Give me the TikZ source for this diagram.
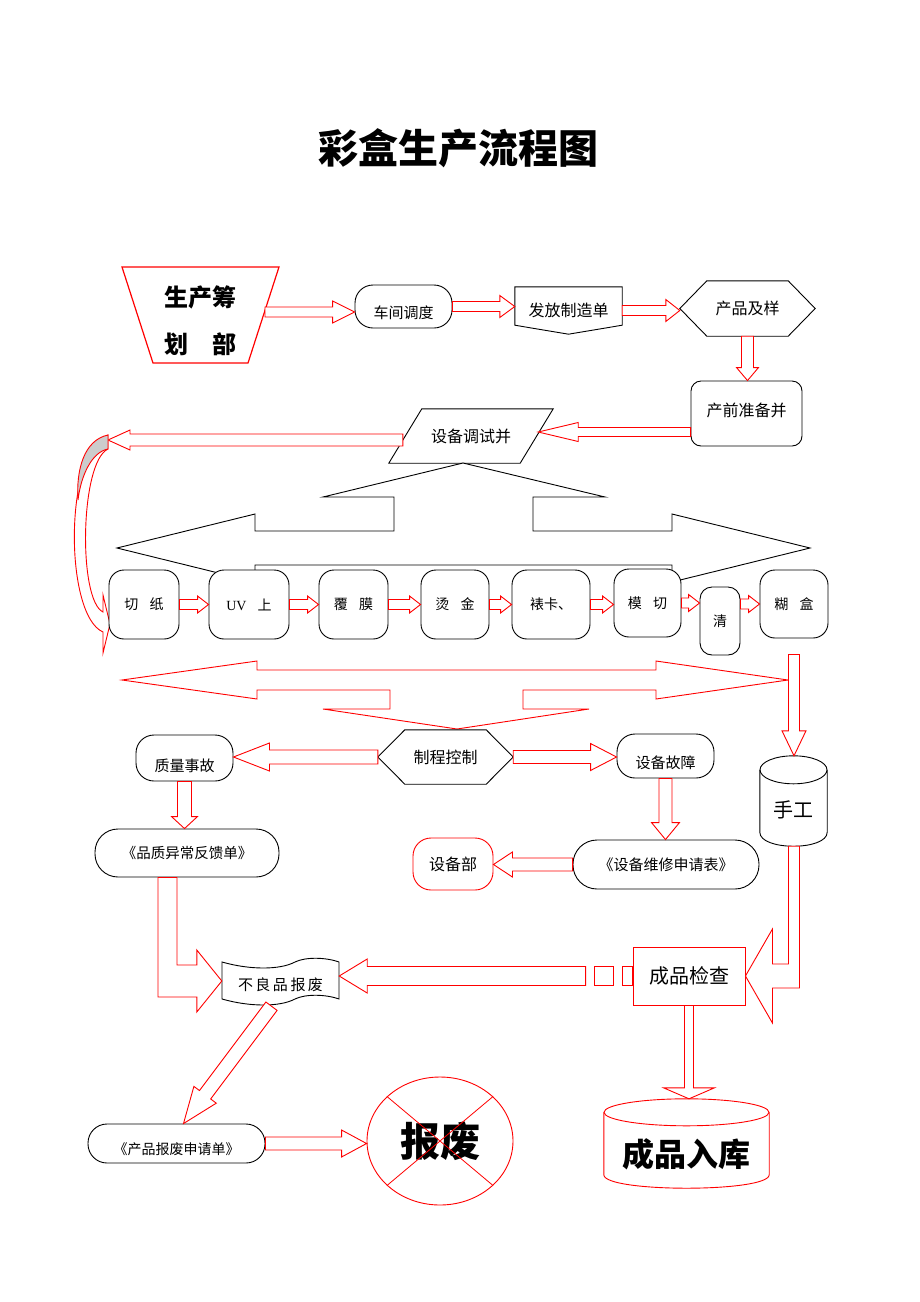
\documentclass[tikz,border=0pt]{standalone}
\usepackage{fontspec}
\newfontfamily\cjk{Noto Sans CJK SC}
\newfontfamily\lat{Liberation Serif}
\usetikzlibrary{calc,shapes.geometric}

\tikzset{
  lbl/.style={font=\cjk\fontsize{15}{18}\selectfont},
  box/.style={draw, fill=white, line width=0.9pt, inner sep=0pt, lbl},
  pill/.style={box, rounded corners=#1},
  pill/.default=18pt,
  stage/.style={box, rounded corners=15pt, font=\cjk\fontsize{14}{17}\selectfont},
  blank/.style={inner sep=0pt, lbl},
  hollow/.style={draw=red, fill=white, line width=0.9pt, line join=miter},
}

% hollow block arrow: [opts]{from}{to}{half shaft}{half head}{head length}
\newcommand{\hollowarrow}[6][]{%
  \coordinate (ha-a) at (#2);
  \coordinate (ha-b) at (#3);
  \coordinate (ha-h) at ($(ha-b)!#6pt!(ha-a)$);
  \draw[hollow,#1] ($(ha-a)!#4pt!90:(ha-b)$) -- ($(ha-h)!#4pt!90:(ha-b)$)
    -- ($(ha-h)!#5pt!90:(ha-b)$) -- (ha-b) -- ($(ha-h)!#5pt!-90:(ha-b)$)
    -- ($(ha-h)!#4pt!-90:(ha-b)$) -- ($(ha-a)!#4pt!-90:(ha-b)$) -- cycle;
}

\begin{document}
\begin{tikzpicture}[x=1pt, y=-1pt]
\useasboundingbox (0,0) rectangle (920,1302);

\node[font=\cjk\bfseries\fontsize{40}{48}\selectfont] (title) at (458,148) {彩盒生产流程图};

% top row
\draw[line width=1.2pt, red] (122,267) -- (279,267) -- (248,363) -- (153,363) -- cycle;
\node[blank, font=\cjk\bfseries\fontsize{24}{47}\selectfont, align=center] (sc) at (200,321) {生产筹\\划\hspace{1em}部};
\coordinate (sc-e) at (265,312);

\node[pill, minimum width=97pt, minimum height=43pt,
  label={[lbl, yshift=-6pt]center:车间调度}] (cj) at (403.5,306.5) {};

\node[blank, minimum width=107pt, minimum height=47pt, font=\cjk\fontsize{16}{19}\selectfont] (ff) at (568.5,310.5) {发放制造单};
\draw[line width=0.9pt] (ff.north west) -- (ff.north east) -- ($(ff.south east)+(0,-9)$) -- (ff.south) -- ($(ff.south west)+(0,-9)$) -- cycle;

\node[blank, minimum width=135pt, minimum height=55pt, font=\cjk\fontsize{16}{19}\selectfont] (cp) at (747.5,308.5) {产品及样};
\draw[line width=0.9pt] (cp.west) -- ($(cp.north west)+(27,0)$) -- ($(cp.north east)+(-27,0)$) -- (cp.east) -- ($(cp.south east)+(-27,0)$) -- ($(cp.south west)+(27,0)$) -- cycle;

\node[pill=10pt, minimum width=111pt, minimum height=65pt,
  label={[font=\cjk\fontsize{16}{19}\selectfont, yshift=3pt]center:产前准备并}] (cq) at (746.5,413.5) {};

\node[blank, minimum width=164pt, minimum height=54pt, font=\cjk\fontsize{16}{19}\selectfont] (ts) at (471,436) {设备调试并};
\draw[line width=0.9pt] (ts.south west) -- ($(ts.north west)+(33,0)$) -- (ts.north east) -- ($(ts.south east)+(-33,0)$) -- cycle;
\coordinate (cv-a) at (108,440);

\hollowarrow{sc-e}{sc-e -| cj.west}{5}{11}{22}
\hollowarrow{cj.east}{cj.east -| ff.west}{5}{11}{15}
\hollowarrow{ff.east}{ff.east -| cp.west}{5}{11}{14}
\hollowarrow{cp.south}{cp.south |- cq.north}{6}{11}{13}
\hollowarrow{$(cq.west)+(0,18.5)$}{$(ts.east)+(-15,-4)$}{4.5}{9.5}{40}
\hollowarrow{$(ts.west)+(14,4)$}{cv-a}{6}{10}{22}

% curved arrow down to the first stage
\draw[hollow] (108,449) .. controls (80,462) and (78,600) .. (103,612) -- (103,595) -- (110,624) -- (103,653) -- (103,632) .. controls (64,615) and (64,450) .. (108,435) -- cycle;
\draw[hollow, fill=gray!40] (108,435) .. controls (84,440) and (76,470) .. (78,500) .. controls (81,475) and (92,452) .. (108,449) -- cycle;

% big black left-right-up arrow
\draw[line width=0.9pt, fill=white] (463,463) -- (605,497) -- (533,497) -- (533,531) -- (672,531) -- (672,514) -- (810,548) -- (672,582) -- (672,565) -- (255,565) -- (255,582) -- (117,548) -- (255,514) -- (255,531) -- (394,531) -- (394,497) -- (323,497) -- cycle;

% stages
\node[stage, minimum width=70pt, minimum height=69pt] (qz) at (144,604.5) {切\hspace{.8em}纸};
\node[stage, minimum width=80pt, minimum height=69pt] (uv) at (249,604.5) {{\lat UV}\hspace{.8em}上};
\node[stage, minimum width=69pt, minimum height=69pt] (fm) at (353.5,604.5) {覆\hspace{.8em}膜};
\node[stage, minimum width=68pt, minimum height=69pt] (tj) at (455,604.5) {烫\hspace{.8em}金};
\node[stage, minimum width=78pt, minimum height=69pt] (bk) at (551,604.5) {裱卡、};
\node[stage, minimum width=67pt, minimum height=68pt] (mq) at (647.5,603) {模\hspace{.8em}切};
\node[stage, rounded corners=12pt, minimum width=40pt, minimum height=68pt] (qq) at (720,621) {清};
\node[stage, minimum width=68pt, minimum height=68pt] (hh) at (794,604) {糊\hspace{.8em}盒};

\foreach \a/\b in {qz/uv, uv/fm, fm/tj, tj/bk, bk/mq, mq/qq}{
  \hollowarrow{\a.east}{\a.east -| \b.west}{5}{8.5}{11}
}
\hollowarrow{qq.east |- hh.west}{hh.west}{5}{8.5}{11}

% red left-right-down arrow
\draw[hollow] (122,680) -- (257,661) -- (257,670) -- (656,670) -- (656,661) -- (788,680) -- (656,699) -- (656,690) -- (523,690) -- (523,709) -- (589,709) -- (457,729) -- (323,709) -- (390,709) -- (390,690) -- (257,690) -- (257,699) -- cycle;

% process control
\node[blank, minimum width=135pt, minimum height=54pt, font=\cjk\fontsize{16}{19}\selectfont] (zc) at (445.5,757) {制程控制};
\draw[line width=0.9pt] (zc.west) -- ($(zc.north west)+(27,0)$) -- ($(zc.north east)+(-27,0)$) -- (zc.east) -- ($(zc.south east)+(-27,0)$) -- ($(zc.south west)+(27,0)$) -- cycle;

\node[pill, minimum width=97pt, minimum height=46pt,
  label={[lbl, yshift=-8pt]center:质量事故}] (zl) at (184.5,758) {};
\node[pill, minimum width=97pt, minimum height=44pt,
  label={[lbl, yshift=-7pt]center:设备故障}] (sb) at (665.5,756) {};
\node[pill=23pt, minimum width=184pt, minimum height=48pt, font=\cjk\fontsize{14.5}{17}\selectfont] (pz) at (187,853) {《品质异常反馈单》};
\node[pill=24pt, minimum width=186pt, minimum height=49pt] (wx) at (666,864.5) {《设备维修申请表》};
\node[pill, draw=red, minimum width=80pt, minimum height=52pt, font=\cjk\fontsize{16}{19}\selectfont] (sbb) at (453,864) {设备部};

% hand work cylinder
\node[blank, minimum width=67pt, minimum height=90pt,
  label={[font=\cjk\fontsize{20}{24}\selectfont, yshift=-9pt]center:手工}] (sg) at (793.5,801) {};
\draw[line width=0.9pt] ($(sg.north west)+(0,14)$) -- ($(sg.south west)+(0,-14)$) .. controls ($(sg.south west)+(0,4.7)$) and ($(sg.south east)+(0,4.7)$) .. ($(sg.south east)+(0,-14)$) -- ($(sg.north east)+(0,14)$);
\draw[line width=0.9pt] ($(sg.north)+(0,14)$) ellipse [x radius=33.5, y radius=14];

\hollowarrow{$(hh.south)+(0,16)$}{hh.south |- sg.north}{5.5}{12}{25}
\hollowarrow{zc.west}{zc.west -| zl.east}{7}{14}{36}
\hollowarrow{zc.east}{zc.east -| sb.west}{6.5}{13.5}{26}
\hollowarrow{zl.south}{zl.south |- pz.north}{7}{13}{12}
\hollowarrow{sb.south}{sb.south |- wx.north}{6.5}{14}{17}
\hollowarrow{wx.west}{wx.west -| sbb.east}{6.5}{12.5}{19}

% rejects
\draw[line width=0.9pt] (222,962) .. controls (250,970) and (280,970) .. (295,962) .. controls (305,957) and (325,957) .. (339,962) -- (339,999) .. controls (325,994) and (305,994) .. (295,999) .. controls (280,1007) and (250,1007) .. (222,999) -- cycle;
\node[blank, minimum width=117pt, minimum height=38pt,
  label={[lbl, yshift=-4pt]center:不\,良\,品\,报\,废}] (bl) at (280.5,981) {};

\node[box, draw=red, minimum width=112pt, minimum height=58pt, font=\cjk\fontsize{20}{24}\selectfont] (jc) at (689,976) {成品检查};

% finished goods cylinder
\node[blank, minimum width=165pt, minimum height=89pt,
  label={[font=\cjk\bfseries\fontsize{32}{38}\selectfont, yshift=-11pt]center:成品入库}] (rk) at (686.5,1143.5) {};
\draw[line width=0.9pt, red] ($(rk.north west)+(0,13.5)$) -- ($(rk.south west)+(0,-13.5)$) .. controls ($(rk.south west)+(0,4.5)$) and ($(rk.south east)+(0,4.5)$) .. ($(rk.south east)+(0,-13.5)$) -- ($(rk.north east)+(0,13.5)$);
\draw[line width=0.9pt, red] ($(rk.north)+(0,13.5)$) ellipse [x radius=82.5, y radius=13.5];

\node[pill=19pt, minimum width=177pt, minimum height=39pt,
  label={[font=\cjk\fontsize{14}{17}\selectfont, yshift=-6pt]center:《产品报废申请单》}] (bq) at (176.5,1143.5) {};
\node[draw=red, line width=0.9pt, ellipse, inner sep=0pt, minimum width=146pt, minimum height=128pt,
  font=\cjk\bfseries\fontsize{40}{48}\selectfont] (bf) at (440,1141) {报废};
\draw[red, line width=0.8pt] (bf.140) -- (bf.-40) (bf.40) -- (bf.220);

\draw[hollow] ($(pz.south)+(-29,0)$) |- ($(bl.west)+(-25,16)$) -- ++(0,15) -- (bl.west) -- ++(-25,-31) -- ++(0,15) -| ($(pz.south)+(-10,0)$) -- cycle;
\draw[hollow] ($(sg.south)+(6,0)$) |- ($(jc.east)+(27,12)$) -- ++(0,35) -- (jc.east) -- ++(27,-47) -- ++(0,35) -| ($(sg.south)+(-5,0)$) -- cycle;
\hollowarrow{$(jc.west)+(-47,0)$}{jc.west -| bl.east}{9.5}{17}{28}
\draw[hollow] ($(jc.west)+(-38,-9.5)$) rectangle ($(jc.west)+(-19,9.5)$);
\draw[hollow] ($(jc.west)+(-10,-9.5)$) rectangle ($(jc.west)+(0,9.5)$);
\hollowarrow{jc.south}{jc.south |- rk.north}{4.5}{25.5}{11}
\hollowarrow{$(bl.south)+(-9,6)$}{$(bq.north)+(7,0)$}{7}{14}{36}
\hollowarrow{bq.east}{bq.east -| bf.west}{6.5}{13.5}{25}
\end{tikzpicture}
\end{document}
